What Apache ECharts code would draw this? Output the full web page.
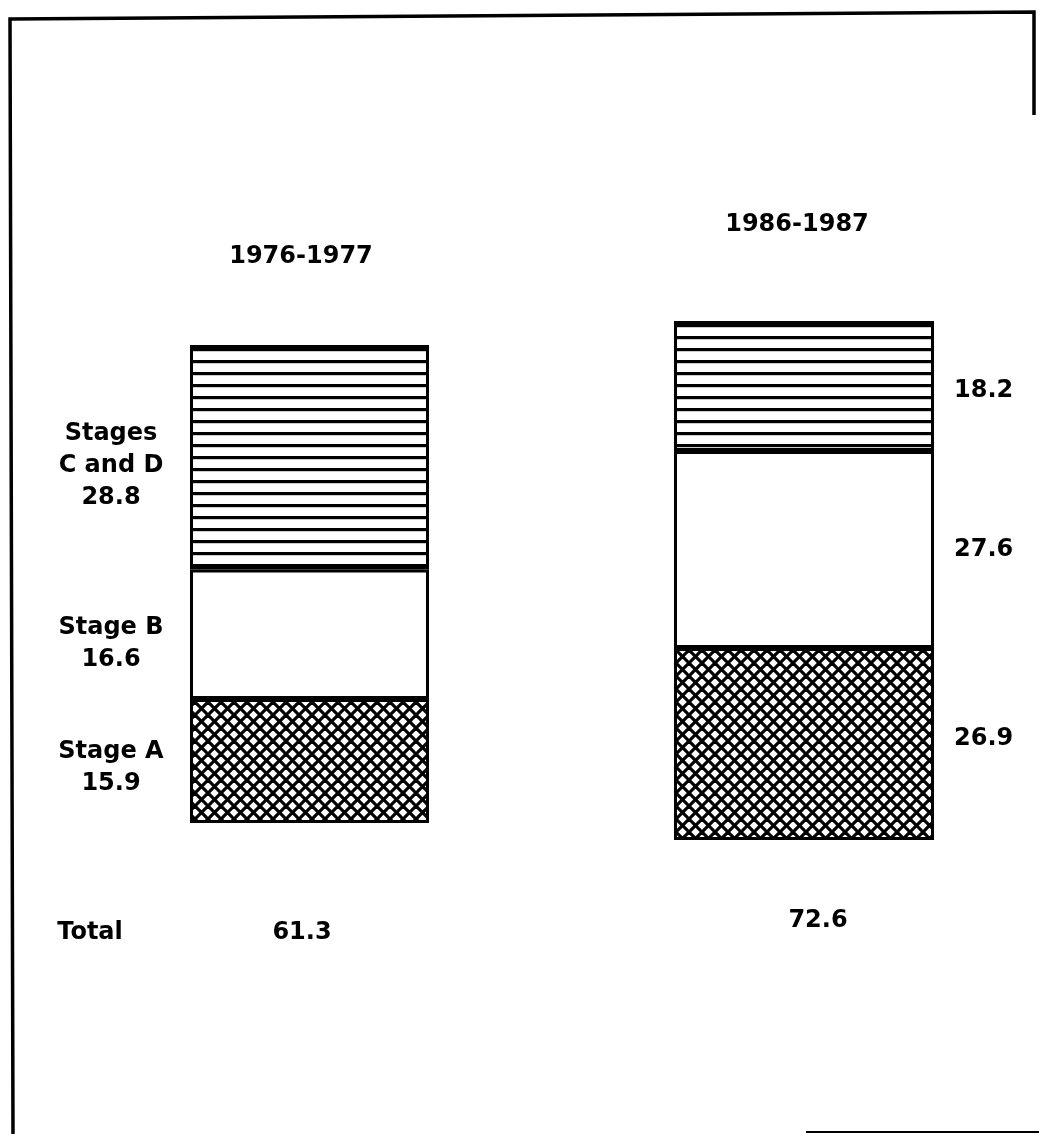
<!DOCTYPE html>
<html>
<head>
<meta charset="utf-8">
<script src="https://cdn.jsdelivr.net/npm/echarts@6/dist/echarts.min.js"></script>
<style>
	html, body { margin: 0; padding: 0; background: #fff; }
	#chart { width: 1039px; height: 1134px; }
</style>
</head>
<body>
<div id="chart"></div>
<script>
// data
const periods = ['1976-1977', '1986-1987'];
const stageA = [15.9, 26.9];
const stageB = [16.6, 27.6];
const stageCD = [28.8, 18.2];
const totals = [61.3, 72.6];

const FONT = '"DejaVu Sans", sans-serif';

// hatch fills
const hLines = () => {
	const c = document.createElement('canvas');
	c.width = 16; c.height = 12;
	const ctx = c.getContext('2d');
	ctx.fillStyle = '#fff'; ctx.fillRect(0, 0, 16, 12);
	ctx.fillStyle = '#000'; ctx.fillRect(0, 0, 16, 3.2);
	return c;
};
const crossHatch = () => {
	const s = 13;
	const c = document.createElement('canvas');
	c.width = s; c.height = s;
	const ctx = c.getContext('2d');
	ctx.fillStyle = '#fff'; ctx.fillRect(0, 0, s, s);
	ctx.strokeStyle = '#000'; ctx.lineWidth = 3.2;
	for (let k = -1; k <= 1; k++) {
		ctx.beginPath(); ctx.moveTo(k * s, 0); ctx.lineTo(k * s + s, s); ctx.stroke();
		ctx.beginPath(); ctx.moveTo(k * s + s, 0); ctx.lineTo(k * s, s); ctx.stroke();
	}
	return c;
};
const fillA = { image: crossHatch(), repeat: 'repeat' };
const fillB = '#fff';
const fillCD = { image: hLines(), repeat: 'repeat' };

// bar boxes (left/right/top/bottom in px) per period
const boxes = [
	{ left: 190, right: 1039 - 429, top: 345, bottom: 1134 - 823 },
	{ left: 674, right: 1039 - 934, top: 321, bottom: 1134 - 840 },
];

const textStyle = { fontFamily: FONT, fontSize: 24, fontWeight: 'bold', fill: '#000', textAlign: 'center', textVerticalAlign: 'middle' };
const labelBase = { show: true, color: '#000', fontFamily: FONT, fontSize: 24, fontWeight: 'bold', lineHeight: 32 };

const series = [];
periods.forEach((p, i) => {
	const leftSide = i === 0;
	const lbl = (fmt, dy) => leftSide
		? { ...labelBase, position: [-79, '50%'], align: 'center', verticalAlign: 'middle', offset: [0, dy], formatter: fmt }
		: { ...labelBase, position: 'right', distance: 20, align: 'left', verticalAlign: 'middle', offset: [0, dy], formatter: '{c}' };
	const parts = [
		{ name: 'Stage A', v: stageA[i], color: fillA, fmt: 'Stage A\n{c}', dy: leftSide ? 7 : -5 },
		{ name: 'Stage B', v: stageB[i], color: fillB, fmt: 'Stage B\n{c}', dy: leftSide ? 9 : 0 },
		{ name: 'Stages C and D', v: stageCD[i], color: fillCD, fmt: 'Stages\nC and D\n{c}', dy: leftSide ? 8 : 5 },
	];
	parts.forEach((s) => {
		series.push({
			name: s.name,
			type: 'bar',
			stack: 'p' + i,
			xAxisIndex: i,
			yAxisIndex: i,
			barWidth: '100%',
			itemStyle: { color: s.color, borderColor: '#000', borderWidth: 3 },
			label: lbl(s.fmt, s.dy),
			silent: true,
			data: [s.v],
		});
	});
});

const option = {
	backgroundColor: '#fff',
	animation: false,
	grid: boxes.map((b) => ({ ...b, containLabel: false })),
	xAxis: periods.map((p, i) => ({
		type: 'category', gridIndex: i, data: [p], show: false, boundaryGap: true,
	})),
	yAxis: periods.map((p, i) => ({
		type: 'value', gridIndex: i, show: false, min: 0,
		max: +(stageA[i] + stageB[i] + stageCD[i]).toFixed(1),
	})),
	series,
	graphic: [
		// frame of the scanned page
		{ type: 'polyline', silent: true, shape: { points: [[13, 1134], [10, 19], [1034, 12], [1034, 115]] }, style: { fill: null, stroke: '#000', lineWidth: 3.5 } },
		{ type: 'line', silent: true, shape: { x1: 806, y1: 1132, x2: 1039, y2: 1132 }, style: { stroke: '#000', lineWidth: 2 } },
		// period headings
		{ type: 'text', x: 301, y: 257, style: { ...textStyle, text: periods[0] } },
		{ type: 'text', x: 797, y: 225, style: { ...textStyle, text: periods[1] } },
		// totals
		{ type: 'text', x: 90, y: 933, style: { ...textStyle, text: 'Total' } },
		{ type: 'text', x: 302, y: 933, style: { ...textStyle, text: String(totals[0]) } },
		{ type: 'text', x: 818, y: 921, style: { ...textStyle, text: String(totals[1]) } },
	],
};

const myChart = echarts.init(document.getElementById('chart'));
myChart.setOption(option);
</script>
</body>
</html>
